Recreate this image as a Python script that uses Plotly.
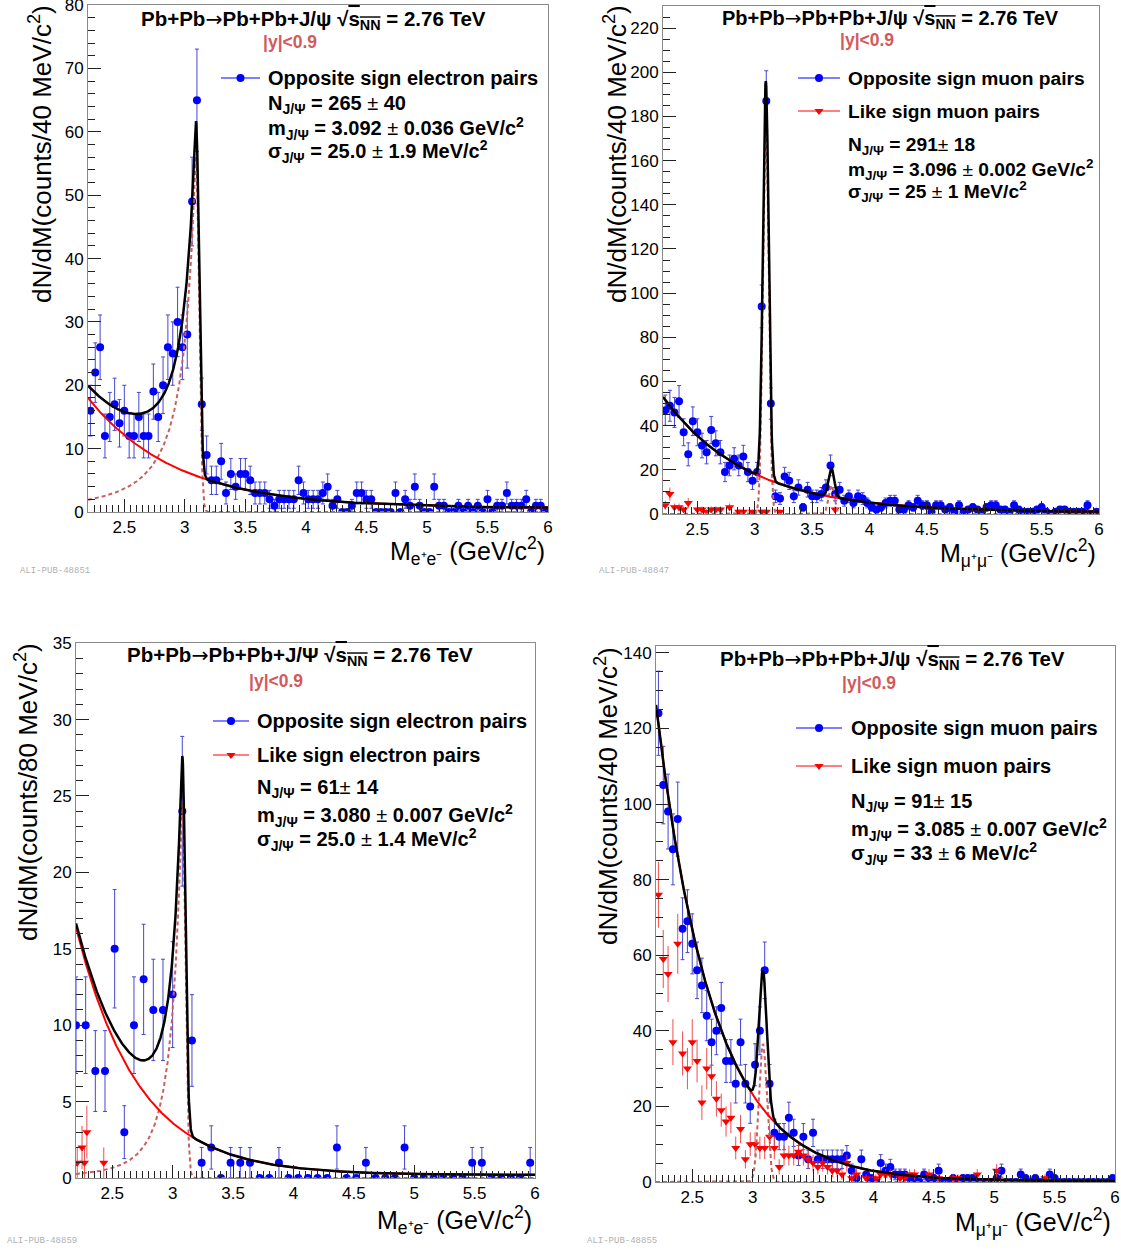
import numpy as np
import plotly.graph_objects as go

W, H = 1121, 1253
FONT = "Liberation Sans, Arial, Helvetica, sans-serif"

# ---------------- data (counts per bin) ----------------
BIN_LO = 2.2
BW40 = 0.04
BW80 = 0.08

# Panel 1: e+e-, 40 MeV bins, opposite sign
ee40_os = [16, 22, 26, 12, 15, 17, 14, 16, 12, 12,
           15, 12, 12, 19, 15, 20, 26, 25, 30, 26,
           28, 49, 65, 17, 9, 5, 5, 8, 3, 6,
           4, 6, 6, 5, 3, 3, 3, 2, 1, 2,
           2, 2, 2, 5, 3, 2, 2, 2, 3, 4,
           1, 2, 0, 0, 1, 3, 3, 2, 2, 0,
           0, 0, 0, 3, 0, 2, 1, 4, 1, 0,
           0, 4, 1, 1, 0, 0, 1, 0, 1, 0,
           1, 0, 2, 0, 1, 1, 3, 1, 1, 1,
           2, 0, 1, 1, 0]

# Panel 2: mu+mu-, 40 MeV bins
mm1_os = [47, 49, 46, 51, 37, 27, 42, 37, 31, 28,
          38, 32, 28, 19, 22, 25, 22, 26, 19, 15,
          19, 94, 187, 50, 8, 7, 17, 15, 8, 12,
          3, 11, 8, 8, 9, 12, 22, 9, 11, 6,
          8, 5, 8, 7, 5, 3, 2, 3, 5, 6,
          6, 2, 2, 4, 3, 6, 4, 4, 1, 4,
          4, 2, 3, 1, 4, 1, 2, 3, 2, 1,
          3, 4, 4, 2, 2, 1, 4, 2, 1, 1,
          1, 2, 3, 1, 0, 1, 2, 2, 1, 1,
          1, 1, 4, 0, 1]
mm1_ls_bin = [0, 1, 2, 3, 4, 5, 7, 8, 9, 10, 11, 12, 14, 16, 17, 19, 21, 22, 25, 37]
mm1_ls = [4, 9, 3, 3, 2, 5, 2, 2, 1, 2, 2, 2, 3, 1, 1, 1, 1, 1, 1, 2]

# Panel 3: e+e-, 80 MeV bins
ee80_os = [10, 10, 7, 7, 15, 3, 10, 13, 11, 11,
           12, 24, 9, 1, 2, 0, 1, 1, 1, 0,
           0, 1, 0, 0, 0, 0, 0, 2, 0, 0,
           1, 0, 0, 0, 2, 0, 0, 0, 0, 0,
           0, 1, 1, 0, 0, 0, 0, 1]
ee80_ls_x = [2.21, 2.25, 2.27, 2.29, 2.43]
ee80_ls = [1, 2, 1, 3, 1]

# Panel 4: mu+mu-, 40 MeV bins
mm2_os = [124, 105, 98, 88, 96, 67, 69, 63, 56, 52,
          44, 37, 40, 46, 32, 32, 26, 37, 26, 20,
          31, 40, 56, 26, 13, 12, 12, 17, 13, 7,
          12, 6, 13, 6, 6, 6, 6, 6, 6, 7,
          3, 1, 6, 2, 1, 0, 5, 3, 4, 2,
          2, 2, 1, 1, 0, 2, 1, 1, 3, 0,
          0, 1, 0, 1, 1, 1, 0, 0, 0, 0,
          1, 3, 0, 0, 0, 2, 1, 0, 1, 0,
          0, 2, 1, 0, 0, 0, 0, 0, 0, 0,
          0, 0, 0, 0, 1]
mm2_ls = [76, 59, 55, 37, 63, 34, 30, 37, 32, 21,
          30, 28, 22, 19, 16, 17, 9, 14, 6, 10,
          10, 9, 9, 12, 9, 4, 7, 7, 7, 8,
          7, 6, 5, 4, 5, 4, 3, 3, 2, 5,
          1, 2, 0, 1, 0, 1, 2, 2, 2, 0,
          1, 1, 2, 2, 0, 0, 2, 0, 1, 0,
          0, 1, 1, 0, 0, 0, 2, 0, 0, 0,
          3, 0, 0, 0, 0, 0, 0, 0, 0, 0,
          1, 0, 0, 0, 0, 0, 0, 0, 0, 0,
          0, 0, 0, 0, 0]

# fit parameters: background [a, slope, const]; signal [amp, mean, sigma, alpha, n]
ee1_bkg = [17.4, 1.375, 0.6]
ee1_sig = [56.0, 3.092, 0.025, 0.243, 2.0]
mm1_bkg = [52.2, 1.38, 0.8]
mm1_sig = [180.0, 3.096, 0.025, 10.0, 2.0]
mm1_psi2s = [13.0, 3.668, 0.025, 10.0, 2.0]
ee2_bkg = [16.2, 1.95, 0.2]
ee2_sig = [24.5, 3.080, 0.025, 0.3, 3.0]
mm2_bkg = [126.0, 2.13, 0.2]
mm2_sig = [36.5, 3.085, 0.033, 10.0, 2.0]

X_MIN, X_MAX = 2.2, 6.0


def centers(n, w):
    return BIN_LO + w * (np.arange(n) + 0.5)


def bkg(x, p):
    return p[0] * np.exp(-p[1] * (x - X_MIN)) + p[2]


def cball(x, p):
    amp, m, s, a, n = p
    t = (x - m) / s
    A = (n / a) ** n * np.exp(-a * a / 2)
    B = n / a - a
    tail = A * np.power(np.maximum(B - t, 1e-9), -n)
    return amp * np.where(t > -a, np.exp(-t * t / 2), tail)


xf = np.linspace(X_MIN, X_MAX, 1521)

# ---------------- panel geometry (pixels) ----------------
panels = {
    1: dict(px=(88, 548), py=(5, 512), yr=(0, 80.02), dy=10, my=2),
    2: dict(px=(663, 1099), py=(6, 514), yr=(0, 230), dy=20, my=5),
    3: dict(px=(76, 535), py=(643, 1178), yr=(0, 35.01), dy=5, my=1),
    4: dict(px=(656, 1115), py=(646, 1182), yr=(0, 141.8), dy=20, my=5),
}

fig = go.Figure()

BLUE = "#0000ff"
BLUE_ERR = "rgb(70,70,210)"
RED = "#ff0000"
RED_ERR = "rgba(235,60,60,0.9)"
SIGC = "#c86060"


def add_points(i, x, y, kind):
    y = np.asarray(y, dtype=float)
    if kind == "os":
        fig.add_trace(go.Scatter(
            x=x, y=y, mode="markers", xaxis=f"x{i}", yaxis=f"y{i}", showlegend=False,
            marker=dict(color=BLUE, size=8, symbol="circle"),
            error_y=dict(type="data", array=np.sqrt(y), color=BLUE_ERR, thickness=1, width=2)))
    else:
        fig.add_trace(go.Scatter(
            x=x, y=y, mode="markers", xaxis=f"x{i}", yaxis=f"y{i}", showlegend=False,
            marker=dict(color=RED, size=8, symbol="triangle-down"),
            error_y=dict(type="data", array=np.sqrt(y), color=RED_ERR, thickness=1, width=0)))


def add_fit(i, bp, sigs):
    b = bkg(xf, bp)
    s = sum(cball(xf, p) for p in sigs)
    fig.add_trace(go.Scatter(x=xf, y=s, mode="lines", xaxis=f"x{i}", yaxis=f"y{i}", showlegend=False,
                             line=dict(color=SIGC, width=2, dash="4px,3px")))
    fig.add_trace(go.Scatter(x=xf, y=b, mode="lines", xaxis=f"x{i}", yaxis=f"y{i}", showlegend=False,
                             line=dict(color=RED, width=2)))
    fig.add_trace(go.Scatter(x=xf, y=b + s, mode="lines", xaxis=f"x{i}", yaxis=f"y{i}", showlegend=False,
                             line=dict(color="black", width=2.5)))


# panel 1
add_points(1, centers(len(ee40_os), BW40), ee40_os, "os")
add_fit(1, ee1_bkg, [ee1_sig])
# panel 2
c2 = centers(len(mm1_os), BW40)
add_points(2, c2, mm1_os, "os")
add_points(2, c2[mm1_ls_bin], mm1_ls, "ls")
add_fit(2, mm1_bkg, [mm1_sig, mm1_psi2s])
# panel 3
add_points(3, centers(len(ee80_os), BW80) - BW80 / 2, ee80_os, "os")
add_points(3, ee80_ls_x, ee80_ls, "ls")
add_fit(3, ee2_bkg, [ee2_sig])
# panel 4
c4 = centers(len(mm2_os), BW40)
add_points(4, c4, mm2_os, "os")
ls4 = np.asarray(mm2_ls, dtype=float)
nz = ls4 > 0
add_points(4, c4[nz], ls4[nz], "ls")
add_fit(4, mm2_bkg, [mm2_sig])

layout = dict(
    width=W, height=H, margin=dict(l=0, r=0, t=0, b=0, pad=0),
    paper_bgcolor="white", plot_bgcolor="rgba(0,0,0,0)",
    template="none", showlegend=False,
    font=dict(family=FONT, color="black"),
)

for i, p in panels.items():
    x0, x1 = p["px"]
    y0, y1 = p["py"]
    common = dict(showgrid=False, zeroline=False, showline=True, mirror=True,
                  linecolor="#8a8a8a", linewidth=1, ticks="inside", ticklen=13,
                  tickwidth=1, tickcolor="#222", automargin=False, fixedrange=True,
                  ticklabeloverflow="allow",
                  tickfont=dict(size=17, color="black", family=FONT))
    layout[f"xaxis{i}"] = dict(common, domain=[x0 / W, x1 / W], range=[X_MIN, X_MAX],
                               anchor=f"y{i}", tick0=0, dtick=0.5,
                               minor=dict(ticks="inside", ticklen=7, tickwidth=1, tickcolor="#222", dtick=0.05))
    layout[f"yaxis{i}"] = dict(common, domain=[1 - y1 / H, 1 - y0 / H], range=list(p["yr"]),
                               anchor=f"x{i}", tick0=0, dtick=p["dy"],
                               minor=dict(ticks="inside", ticklen=7, tickwidth=1, tickcolor="#222", dtick=p["my"]))

# pixel overlay axes for legends/labels
layout["xaxis5"] = dict(domain=[0, 1], range=[0, W], visible=False, fixedrange=True, anchor="y5")
layout["yaxis5"] = dict(domain=[0, 1], range=[H, 0], visible=False, fixedrange=True, anchor="x5")
fig.update_layout(**layout)

ann = []


def txt(x, y, s, size, xa="left", ya="middle", color="black", angle=0, family=FONT):
    ann.append(dict(x=x, y=y, xref="x5", yref="y5", text=s, showarrow=False,
                    xanchor=xa, yanchor=ya, textangle=angle,
                    font=dict(size=size, color=color, family=family)))


def leg_sym(x0, x1, y, kind):
    col = BLUE if kind == "os" else RED
    fig.add_trace(go.Scatter(x=[x0, x1], y=[y, y], mode="lines", xaxis="x5", yaxis="y5",
                             showlegend=False, line=dict(color=col, width=1)))
    fig.add_trace(go.Scatter(x=[(x0 + x1) / 2], y=[y], mode="markers", xaxis="x5", yaxis="y5",
                             showlegend=False,
                             marker=dict(color=col, size=8,
                                         symbol="circle" if kind == "os" else "triangle-down")))


ARROW = "<span style='font-family:DejaVu Sans;font-weight:normal'>→</span>"
SQ = "√<span style='text-decoration:overline'>s<sub>NN</sub></span>"
TITLE_PSI = "<b>Pb+Pb" + ARROW + "Pb+Pb+J/ψ " + SQ + " = 2.76 TeV</b>"
TITLE_PSI_U = "<b>Pb+Pb" + ARROW + "Pb+Pb+J/Ψ " + SQ + " = 2.76 TeV</b>"
YCUT = "<b>|y|<0.9</b>"
YC = "#d25a5a"
JP = "<sub>J/Ψ</sub>"
TS = 20.5   # title size
LS = 20     # legend / stats size
YS = 17.5   # |y| size
TS2 = 20    # panel 2 title size
LS2 = 19.2  # panel 2 legend / stats size

# panel 1 texts
txt(313, 20, TITLE_PSI, TS, xa="center")
txt(290, 42, YCUT, YS, xa="center", color=YC)
leg_sym(221, 260, 78, "os")
txt(266, 78, "<b>Opposite sign electron pairs</b>", LS)
txt(266, 104, "<b>N" + JP + " = 265</b> ± <b>40</b>", LS)
txt(266, 128, "<b>m" + JP + " = 3.092</b> ± <b>0.036 GeV/c<sup>2</sup></b>", LS)
txt(266, 151, "<b>σ" + JP + " = 25.0</b> ± <b>1.9 MeV/c<sup>2</sup></b>", LS)

# panel 2 texts
txt(890, 19, TITLE_PSI, TS2, xa="center")
txt(867, 40, YCUT, YS, xa="center", color=YC)
leg_sym(798, 840, 78, "os")
txt(846, 78, "<b>Opposite sign muon pairs</b>", LS2)
leg_sym(798, 840, 111, "ls")
txt(846, 111, "<b>Like sign muon pairs</b>", LS2)
txt(846, 146, "<b>N" + JP + " = 291</b>± <b>18</b>", LS2)
txt(846, 169, "<b>m" + JP + " = 3.096</b> ± <b>0.002 GeV/c<sup>2</sup></b>", LS2)
txt(846, 191, "<b>σ" + JP + " = 25</b> ± <b>1 MeV/c<sup>2</sup></b>", LS2)

# panel 3 texts
txt(300, 656, TITLE_PSI_U, TS, xa="center")
txt(276, 681, YCUT, YS, xa="center", color=YC)
leg_sym(213, 249, 721, "os")
txt(255, 721, "<b>Opposite sign electron pairs</b>", LS)
leg_sym(213, 249, 755, "ls")
txt(255, 755, "<b>Like sign electron pairs</b>", LS)
txt(255, 788, "<b>N" + JP + " = 61</b>± <b>14</b>", LS)
txt(255, 815, "<b>m" + JP + " = 3.080</b> ± <b>0.007 GeV/c<sup>2</sup></b>", LS)
txt(255, 839, "<b>σ" + JP + " = 25.0</b> ± <b>1.4 MeV/c<sup>2</sup></b>", LS)

# panel 4 texts
txt(892, 660, TITLE_PSI, TS, xa="center")
txt(869, 683, YCUT, YS, xa="center", color=YC)
leg_sym(796, 842, 728, "os")
txt(849, 728, "<b>Opposite sign muon pairs</b>", LS)
leg_sym(796, 842, 766, "ls")
txt(849, 766, "<b>Like sign muon pairs</b>", LS)
txt(849, 802, "<b>N" + JP + " = 91</b>± <b>15</b>", LS)
txt(849, 829, "<b>m" + JP + " = 3.085</b> ± <b>0.007 GeV/c<sup>2</sup></b>", LS)
txt(849, 853, "<b>σ" + JP + " = 33</b> ± <b>6 MeV/c<sup>2</sup></b>", LS)

# axis titles
XT_EE = "M<sub>e⁺e⁻</sub> (GeV/c<sup>2</sup>)"
XT_MM = "M<sub>μ⁺μ⁻</sub> (GeV/c<sup>2</sup>)"
AX = 25
txt(547, 551, XT_EE, AX, xa="right")
txt(1098, 553, XT_MM, AX, xa="right")
txt(534, 1220, XT_EE, AX, xa="right")
txt(1113, 1222, XT_MM, AX, xa="right")
AY = 26
txt(40, 3, "dN/dM(counts/40 MeV/c<sup>2</sup>)", AY, xa="center", ya="top", angle=-90)
txt(615, 3, "dN/dM(counts/40 MeV/c<sup>2</sup>)", AY, xa="center", ya="top", angle=-90)
txt(26, 641, "dN/dM(counts/80 MeV/c<sup>2</sup>)", AY, xa="center", ya="top", angle=-90)
txt(606, 645, "dN/dM(counts/40 MeV/c<sup>2</sup>)", AY, xa="center", ya="top", angle=-90)

# publication ids
MONO = "Liberation Mono, DejaVu Sans Mono, monospace"
txt(18, 571, "ALI-PUB-48851", 9, color="#b0b0b0", family=MONO)
txt(597, 571, "ALI-PUB-48847", 9, color="#b0b0b0", family=MONO)
txt(5, 1241, "ALI-PUB-48859", 9, color="#b0b0b0", family=MONO)
txt(585, 1241, "ALI-PUB-48855", 9, color="#b0b0b0", family=MONO)

fig.update_layout(annotations=ann)

fig.write_html("out.html", config={"displayModeBar": False},
               post_script="document.body.style.margin='0';document.body.style.overflow='hidden';")
